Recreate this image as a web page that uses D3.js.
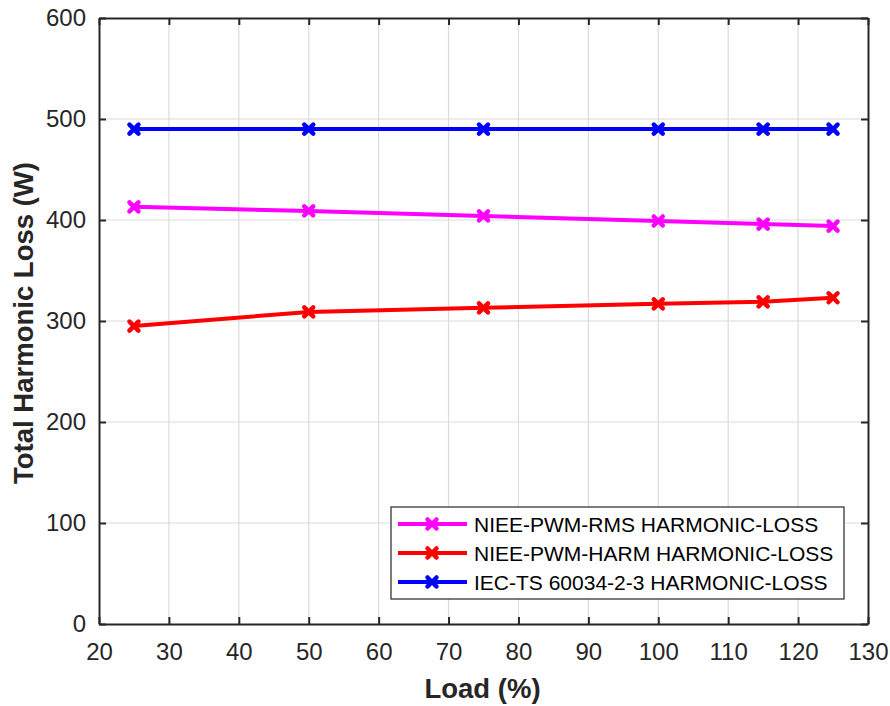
<!DOCTYPE html>
<html>
<head>
<meta charset="utf-8">
<script src="https://cdn.jsdelivr.net/npm/d3@7"></script>
<style>
  body { margin: 0; background: #fff; }
  svg { display: block; font-family: "Liberation Sans", Arial, Helvetica, sans-serif; }
</style>
</head>
<body>
<svg id="chart" width="890" height="706"></svg>
<script>
// Load levels (%) and total harmonic loss (W) for each method
const loads = [25, 50, 75, 100, 115, 125];
const rmsLoss = [413, 409, 404, 399, 396, 394];
const harmLoss = [295, 309, 313, 317, 319, 323];
const iecLoss = [490, 490, 490, 490, 490, 490];

const seriesNames = [
  "NIEE-PWM-RMS HARMONIC-LOSS",
  "NIEE-PWM-HARM HARMONIC-LOSS",
  "IEC-TS 60034-2-3 HARMONIC-LOSS"
];
const seriesColors = ["#ff00ff", "#ff0000", "#0000ff"];
const seriesValues = [rmsLoss, harmLoss, iecLoss];

const xTicks = [20, 30, 40, 50, 60, 70, 80, 90, 100, 110, 120, 130];
const yTicks = [0, 100, 200, 300, 400, 500, 600];

const svg = d3.select("#chart");
const plotL = 99, plotR = 868, plotT = 18, plotB = 624;

const x = d3.scaleLinear().domain([20, 130]).range([plotL, plotR]);
const y = d3.scaleLinear().domain([0, 600]).range([plotB, plotT]);

const axisColor = "#262626";

// grid
const grid = svg.append("g");
grid.selectAll("line.gx").data(xTicks.slice(1, -1)).join("line")
  .attr("x1", d => x(d)).attr("x2", d => x(d))
  .attr("y1", plotT).attr("y2", plotB)
  .attr("stroke", "#dcdcdc").attr("stroke-width", 1.2);
grid.selectAll("line.gy").data(yTicks.slice(1, -1)).join("line")
  .attr("x1", plotL).attr("x2", plotR)
  .attr("y1", d => y(d)).attr("y2", d => y(d))
  .attr("stroke", "#dcdcdc").attr("stroke-width", 1.2);

// axes
const tickFont = g => g.selectAll("text")
  .attr("fill", axisColor).style("font-size", "24px")
  .style("font-family", '"Liberation Sans", Arial, sans-serif');

const xAxis = svg.append("g").attr("transform", `translate(0,${plotB})`)
  .call(d3.axisBottom(x).tickValues(xTicks).tickSizeInner(-7).tickSizeOuter(0).tickPadding(19));
xAxis.call(tickFont);
const xAxisTop = svg.append("g").attr("transform", `translate(0,${plotT})`)
  .call(d3.axisTop(x).tickValues(xTicks).tickSizeInner(-7).tickSizeOuter(0).tickFormat(""));
const yAxis = svg.append("g").attr("transform", `translate(${plotL},0)`)
  .call(d3.axisLeft(y).tickValues(yTicks).tickSizeInner(-7).tickSizeOuter(0).tickPadding(13));
yAxis.call(tickFont);
const yAxisRight = svg.append("g").attr("transform", `translate(${plotR},0)`)
  .call(d3.axisRight(y).tickValues(yTicks).tickSizeInner(-7).tickSizeOuter(0).tickFormat(""));

[xAxis, xAxisTop, yAxis, yAxisRight].forEach(a => {
  a.select(".domain").attr("stroke", axisColor).attr("stroke-width", 2);
  a.selectAll(".tick line").attr("stroke", axisColor).attr("stroke-width", 2);
});

// axis titles
svg.append("text")
  .attr("x", 482.5).attr("y", 698)
  .attr("text-anchor", "middle")
  .attr("fill", axisColor)
  .style("font-size", "27.5px").style("font-weight", "bold")
  .text("Load (%)");
svg.append("text")
  .attr("transform", `translate(33,323) rotate(-90)`)
  .attr("text-anchor", "middle")
  .attr("fill", axisColor)
  .style("font-size", "27.5px").style("font-weight", "bold")
  .text("Total Harmonic Loss (W)");

// x-shaped marker path
const markerPath = (cx, cy, r) =>
  `M${cx - r},${cy - r}L${cx + r},${cy + r}M${cx - r},${cy + r}L${cx + r},${cy - r}`;

const line = d3.line().x(d => x(d[0])).y(d => y(d[1]));

// draw series (IEC first so it sits underneath)
[2, 1, 0].forEach(i => {
  const pts = loads.map((l, j) => [l, seriesValues[i][j]]);
  const g = svg.append("g");
  g.append("path").attr("d", line(pts))
    .attr("fill", "none").attr("stroke", seriesColors[i])
    .attr("stroke-width", 4).attr("stroke-linejoin", "round");
  g.selectAll("path.m").data(pts).join("path")
    .attr("class", "m")
    .attr("d", d => markerPath(x(d[0]), y(d[1]), 4.5))
    .attr("stroke", seriesColors[i]).attr("stroke-width", 4.5)
    .attr("stroke-linecap", "round").attr("fill", "none");
});

// legend
const lg = svg.append("g");
lg.append("rect").attr("x", 391).attr("y", 507).attr("width", 453).attr("height", 92)
  .attr("fill", "#fff").attr("stroke", axisColor).attr("stroke-width", 1.2);
seriesNames.forEach((name, i) => {
  const ly = 524 + i * 29;
  lg.append("line").attr("x1", 398).attr("x2", 467).attr("y1", ly).attr("y2", ly)
    .attr("stroke", seriesColors[i]).attr("stroke-width", 4);
  lg.append("path").attr("d", markerPath(432, ly, 4.5))
    .attr("stroke", seriesColors[i]).attr("stroke-width", 4.5)
    .attr("stroke-linecap", "round").attr("fill", "none");
  lg.append("text").attr("x", 474).attr("y", ly + 7.5)
    .attr("fill", "#000").style("font-size", "21px")
    .text(name);
});
</script>
</body>
</html>
